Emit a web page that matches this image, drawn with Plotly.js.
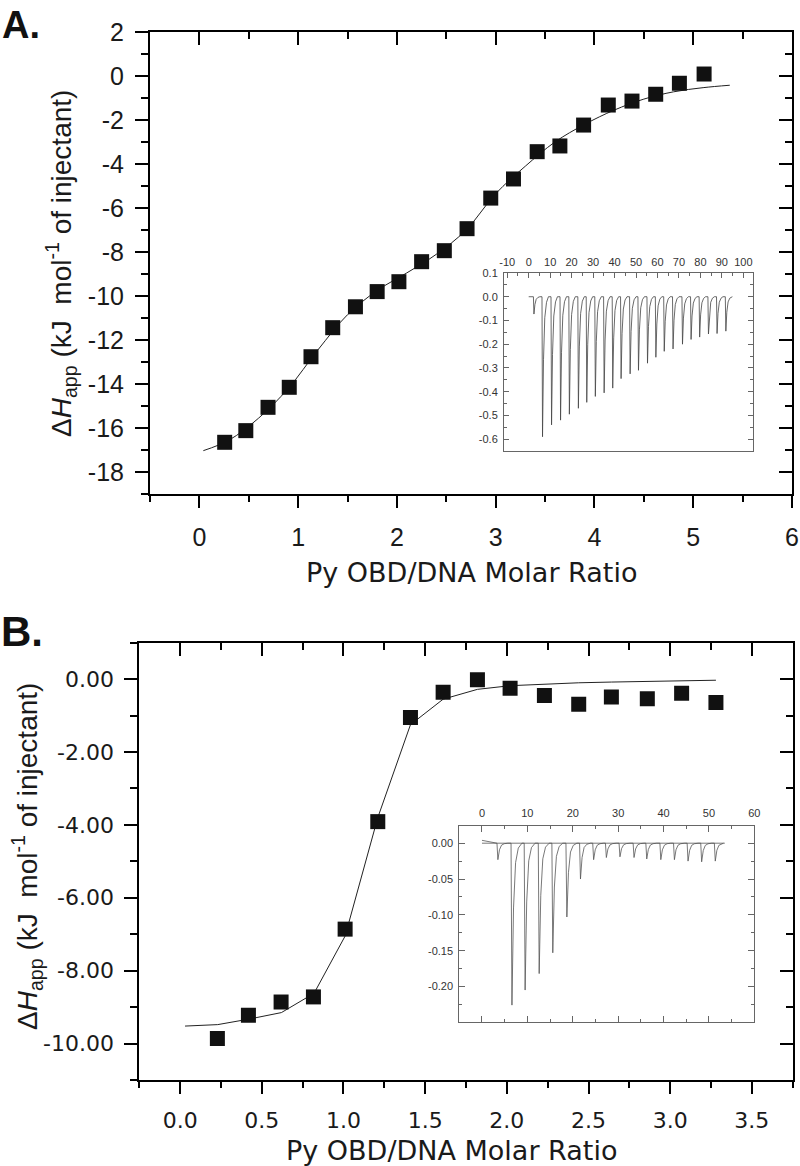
<!DOCTYPE html>
<html>
<head>
<meta charset="utf-8">
<script src="https://cdn.plot.ly/plotly-3.0.1.min.js"></script>
<style>html,body{margin:0;padding:0;background:#fff;}#chart{width:800px;height:1166px;}</style>
</head>
<body>
<div id="chart"></div>
<script>
// ---------- Panel A data ----------
const aRatio = [0.256, 0.47, 0.695, 0.91, 1.13, 1.35, 1.58, 1.80, 2.02, 2.25, 2.48, 2.71, 2.95, 3.18, 3.42, 3.65, 3.89, 4.14, 4.38, 4.62, 4.86, 5.11];
const aDH    = [-16.65, -16.12, -15.06, -14.15, -12.76, -11.44, -10.49, -9.8, -9.35, -8.44, -7.94, -6.94, -5.55, -4.68, -3.44, -3.18, -2.23, -1.32, -1.14, -0.83, -0.33, 0.09];
const aFitX  = [0.04, 0.3, 0.6, 0.9, 1.2, 1.5, 1.8, 2.1, 2.4, 2.7, 3.0, 3.3, 3.6, 3.9, 4.2, 4.5, 4.8, 5.1, 5.37];
const aFitY  = [-17.03, -16.55, -15.55, -14.2, -12.45, -10.85, -9.75, -8.95, -8.1, -7.0, -5.35, -4.1, -3.0, -2.2, -1.55, -1.05, -0.72, -0.53, -0.42];
// Panel A inset (raw thermogram): injection times and peak minima
const aInjT  = [2.2, 6.2, 10.4, 14.6, 18.7, 22.9, 26.8, 30.8, 34.9, 38.9, 42.8, 47.0, 50.9, 55.1, 59.0, 62.9, 67.0, 71.4, 75.4, 79.4, 83.5, 87.5, 91.6];
const aPeak  = [-0.073, -0.59, -0.54, -0.52, -0.495, -0.47, -0.445, -0.42, -0.405, -0.385, -0.345, -0.325, -0.31, -0.28, -0.255, -0.23, -0.22, -0.20, -0.18, -0.17, -0.157, -0.155, -0.145];
const aThermoStart = [0, 0.0];
const aThermoEnd = 94.9;
const aPeakDt   = [0, 0.25, 0.7, 1.3, 2.1, 3.0];
const aPeakFrac = [0, 1, 0.45, 0.15, 0.04, 0];

// ---------- Panel B data ----------
const bRatio = [0.228, 0.418, 0.618, 0.816, 1.01, 1.21, 1.41, 1.61, 1.82, 2.02, 2.23, 2.44, 2.64, 2.86, 3.07, 3.28];
const bDH    = [-9.86, -9.22, -8.86, -8.72, -6.86, -3.91, -1.05, -0.36, -0.02, -0.25, -0.45, -0.69, -0.49, -0.54, -0.39, -0.64];
const bFitX  = [0.03, 0.23, 0.42, 0.62, 0.82, 1.01, 1.21, 1.41, 1.61, 1.82, 2.02, 2.23, 2.44, 2.64, 2.86, 3.07, 3.28];
const bFitY  = [-9.52, -9.48, -9.33, -9.15, -8.62, -7.05, -3.8, -1.25, -0.55, -0.28, -0.18, -0.13, -0.10, -0.08, -0.06, -0.04, -0.03];
const bInjT  = [3.3, 6.4, 9.3, 12.4, 15.4, 18.5, 21.5, 24.4, 27.2, 30.2, 33.3, 36.1, 39.2, 42.2, 45.2, 48.2, 51.2];
const bPeak  = [-0.023, -0.226, -0.205, -0.182, -0.153, -0.103, -0.05, -0.023, -0.02, -0.019, -0.02, -0.022, -0.023, -0.023, -0.025, -0.026, -0.025];
const bThermoStart = [0, 0.004];
const bThermoEnd = 53.2;
const bPeakDt   = [0, 0.2, 0.55, 1.0, 1.6, 2.4];
const bPeakFrac = [0, 1, 0.4, 0.12, 0.03, 0];
const bBaseX = [0, 53.5];
const bBaseY = [0, 0];

// ---------- tick labels ----------
const aXTicks = [0, 1, 2, 3, 4, 5, 6];
const aXText  = ['0', '1', '2', '3', '4', '5', '6'];
const aYTicks = [2, 0, -2, -4, -6, -8, -10, -12, -14, -16, -18];
const aYText  = ['2', '0', '-2', '-4', '-6', '-8', '-10', '-12', '-14', '-16', '-18'];
const aInXTicks = [-10, 0, 10, 20, 30, 40, 50, 60, 70, 80, 90, 100];
const aInXText  = ['-10', '0', '10', '20', '30', '40', '50', '60', '70', '80', '90', '100'];
const aInYTicks = [0.1, 0, -0.1, -0.2, -0.3, -0.4, -0.5, -0.6];
const aInYText  = ['0.1', '0.0', '-0.1', '-0.2', '-0.3', '-0.4', '-0.5', '-0.6'];
const bXTicks = [0, 0.5, 1, 1.5, 2, 2.5, 3, 3.5];
const bXText  = ['0.0', '0.5', '1.0', '1.5', '2.0', '2.5', '3.0', '3.5'];
const bYTicks = [0, -2, -4, -6, -8, -10];
const bYText  = ['0.00', '-2.00', '-4.00', '-6.00', '-8.00', '-10.00'];
const bInXTicks = [0, 10, 20, 30, 40, 50, 60];
const bInXText  = ['0', '10', '20', '30', '40', '50', '60'];
const bInYTicks = [0, -0.05, -0.10, -0.15, -0.20];
const bInYText  = ['0.00', '-0.05', '-0.10', '-0.15', '-0.20'];

const xTitle = 'Py OBD/DNA Molar Ratio';
const yTitle = '\u0394<i>H</i><sub>app</sub> (kJ&nbsp;&nbsp;mol<sup>-1</sup> of injectant)';

function buildThermo(start, injT, depth, dt, frac, endT) {
  const xs = [start[0]], ys = [start[1]];
  for (let i = 0; i < injT.length; i++) {
    const next = i + 1 < injT.length ? injT[i + 1] : endT;
    for (let j = 0; j < dt.length; j++) {
      const t = injT[i] + dt[j];
      if (t >= next) break;
      xs.push(t); ys.push(frac[j] * depth[i]);
    }
  }
  xs.push(endT); ys.push(0);
  return {x: xs, y: ys};
}
const aThermo = buildThermo(aThermoStart, aInjT, aPeak, aPeakDt, aPeakFrac, aThermoEnd);
const bThermo = buildThermo(bThermoStart, bInjT, bPeak, bPeakDt, bPeakFrac, bThermoEnd);

const W = 800, H = 1166;
const px = v => v / W, py = v => 1 - v / H;

const mk = {symbol: 'square', size: 15, color: '#111', line: {width: 0}};
const traces = [
  {type: 'scatter', mode: 'lines', x: aFitX, y: aFitY, xaxis: 'x', yaxis: 'y', line: {color: '#222', width: 1, shape: 'spline'}, hoverinfo: 'skip'},
  {type: 'scatter', mode: 'markers', x: aRatio, y: aDH, xaxis: 'x', yaxis: 'y', marker: mk},
  {type: 'scatter', mode: 'lines', x: [null], y: [null], xaxis: 'x2', yaxis: 'y2', showlegend: false},
  {type: 'scatter', mode: 'lines', x: aThermo.x, y: aThermo.y, xaxis: 'x3', yaxis: 'y3', line: {color: '#444', width: 0.8}},
  {type: 'scatter', mode: 'lines', x: bFitX, y: bFitY, xaxis: 'x4', yaxis: 'y4', line: {color: '#222', width: 1}, hoverinfo: 'skip'},
  {type: 'scatter', mode: 'markers', x: bRatio, y: bDH, xaxis: 'x4', yaxis: 'y4', marker: mk},
  {type: 'scatter', mode: 'lines', x: [null], y: [null], xaxis: 'x5', yaxis: 'y5', showlegend: false},
  {type: 'scatter', mode: 'lines', x: bBaseX, y: bBaseY, xaxis: 'x6', yaxis: 'y6', line: {color: '#555', width: 0.8}},
  {type: 'scatter', mode: 'lines', x: bThermo.x, y: bThermo.y, xaxis: 'x6', yaxis: 'y6', line: {color: '#555', width: 0.8}}
];

const base = {showgrid: false, zeroline: false, showline: true, linecolor: '#000', linewidth: 2, tickcolor: '#000', tickwidth: 2, fixedrange: true};
const fontA = {family: 'Liberation Sans, Arial, sans-serif', size: 25, color: '#1a1a1a'};
const fontB = {family: 'DejaVu Sans, sans-serif', size: 22, color: '#1a1a1a'};
const fontIn = {family: 'Liberation Sans, Arial, sans-serif', size: 11, color: '#333'};
const inBase = {showgrid: false, zeroline: false, showline: true, linecolor: '#666', linewidth: 1, tickcolor: '#666', tickwidth: 1, fixedrange: true, ticks: 'inside', ticklen: 5, tickfont: fontIn};

const domAx = [px(150), px(792)], domAy = [py(494), py(32)];
const domIAx = [px(504), px(753)], domIAy = [py(451), py(273)];
const domBx = [px(139.3), px(792.7)], domBy = [py(1080), py(642.7)];
const domIBx = [px(459.3), px(754.3)], domIBy = [py(1022.3), py(826)];

const layout = {
  width: W, height: H, margin: {l: 0, r: 0, t: 0, b: 0},
  paper_bgcolor: '#fff', plot_bgcolor: 'rgba(0,0,0,0)', showlegend: false,
  xaxis: Object.assign({}, base, {domain: domAx, anchor: 'y', range: [-0.5, 6], tickmode: 'array', tickvals: aXTicks, ticktext: aXText, ticks: 'outside', ticklen: 12, tickfont: fontA, ticklabelstandoff: 8,
    minor: {tickmode: 'linear', tick0: 0.5, dtick: 1, ticks: 'outside', ticklen: 6, tickwidth: 2, tickcolor: '#000'}}),
  yaxis: Object.assign({}, base, {domain: domAy, anchor: 'x', range: [-19, 2], tickmode: 'array', tickvals: aYTicks, ticktext: aYText, ticks: 'outside', ticklen: 13, tickfont: fontA, ticklabelstandoff: 6,
    minor: {tickmode: 'linear', tick0: 1, dtick: 2, ticks: 'outside', ticklen: 7, tickwidth: 2, tickcolor: '#000'}}),
  xaxis2: Object.assign({}, base, {overlaying: 'x', side: 'top', anchor: 'y', range: [-0.5, 6], tickmode: 'array', tickvals: aXTicks, showticklabels: false, ticks: 'inside', ticklen: 13,
    minor: {tickmode: 'linear', tick0: 0.5, dtick: 1, ticks: 'inside', ticklen: 7, tickwidth: 2, tickcolor: '#000'}}),
  yaxis2: Object.assign({}, base, {overlaying: 'y', side: 'right', anchor: 'x', range: [-19, 2], tickmode: 'array', tickvals: aYTicks, showticklabels: false, ticks: 'inside', ticklen: 13,
    minor: {tickmode: 'linear', tick0: 1, dtick: 2, ticks: 'inside', ticklen: 7, tickwidth: 2, tickcolor: '#000'}}),
  xaxis3: Object.assign({}, inBase, {domain: domIAx, anchor: 'y3', side: 'top', range: [-11.5, 104.5], tickmode: 'array', tickvals: aInXTicks, ticktext: aInXText, mirror: true, ticklabelstandoff: 2,
    minor: {tickmode: 'linear', tick0: 5, dtick: 10, ticks: 'inside', ticklen: 3, tickwidth: 1, tickcolor: '#666'}}),
  yaxis3: Object.assign({}, inBase, {domain: domIAy, anchor: 'x3', range: [-0.65, 0.1], tickmode: 'array', tickvals: aInYTicks, ticktext: aInYText, mirror: 'allticks', ticklabelstandoff: 3,
    minor: {tickmode: 'linear', tick0: 0.05, dtick: 0.1, ticks: 'inside', ticklen: 3, tickwidth: 1, tickcolor: '#666'}}),
  xaxis4: Object.assign({}, base, {domain: domBx, anchor: 'y4', range: [-0.25, 3.75], tickmode: 'array', tickvals: bXTicks, ticktext: bXText, ticks: 'outside', ticklen: 12, tickfont: fontB, ticklabelstandoff: 8,
    minor: {tickmode: 'linear', tick0: 0.25, dtick: 0.5, ticks: 'outside', ticklen: 6, tickwidth: 2, tickcolor: '#000'}}),
  yaxis4: Object.assign({}, base, {domain: domBy, anchor: 'x4', range: [-11, 1], tickmode: 'array', tickvals: bYTicks, ticktext: bYText, ticks: 'outside', ticklen: 13, tickfont: fontB, ticklabelstandoff: 6,
    minor: {tickmode: 'linear', tick0: 1, dtick: 2, ticks: 'outside', ticklen: 7, tickwidth: 2, tickcolor: '#000'}}),
  xaxis5: Object.assign({}, base, {overlaying: 'x4', side: 'top', anchor: 'y4', range: [-0.25, 3.75], tickmode: 'array', tickvals: bXTicks, showticklabels: false, ticks: 'inside', ticklen: 13,
    minor: {tickmode: 'linear', tick0: 0.25, dtick: 0.5, ticks: 'inside', ticklen: 7, tickwidth: 2, tickcolor: '#000'}}),
  yaxis5: Object.assign({}, base, {overlaying: 'y4', side: 'right', anchor: 'x4', range: [-11, 1], tickmode: 'array', tickvals: bYTicks, showticklabels: false, ticks: 'inside', ticklen: 13,
    minor: {tickmode: 'linear', tick0: 1, dtick: 2, ticks: 'inside', ticklen: 7, tickwidth: 2, tickcolor: '#000'}}),
  xaxis6: Object.assign({}, inBase, {domain: domIBx, anchor: 'y6', side: 'top', range: [-5, 60], tickmode: 'array', tickvals: bInXTicks, ticktext: bInXText, mirror: 'allticks', ticklen: 6, ticklabelstandoff: 4,
    minor: {tickmode: 'linear', tick0: 5, dtick: 10, ticks: 'inside', ticklen: 3, tickwidth: 1, tickcolor: '#666'}}),
  yaxis6: Object.assign({}, inBase, {domain: domIBy, anchor: 'x6', range: [-0.25, 0.024], tickmode: 'array', tickvals: bInYTicks, ticktext: bInYText, mirror: 'allticks', ticklen: 6, ticklabelstandoff: 3,
    minor: {tickmode: 'linear', tick0: -0.025, dtick: 0.05, ticks: 'inside', ticklen: 3, tickwidth: 1, tickcolor: '#666'}}),
  annotations: [
    {text: '<b>A.</b>', xref: 'paper', yref: 'paper', x: px(0), y: py(2), xanchor: 'left', yanchor: 'top', showarrow: false, font: {family: 'Liberation Sans, Arial, sans-serif', size: 38, color: '#111'}},
    {text: '<b>B.</b>', xref: 'paper', yref: 'paper', x: px(-1), y: py(606), xanchor: 'left', yanchor: 'top', showarrow: false, font: {family: 'Liberation Sans, Arial, sans-serif', size: 42, color: '#111'}},
    {text: yTitle, xref: 'paper', yref: 'paper', x: px(61), y: py(264), xanchor: 'center', yanchor: 'middle', textangle: -90, showarrow: false, font: {family: 'Liberation Sans, Arial, sans-serif', size: 28, color: '#1a1a1a'}},
    {text: yTitle, xref: 'paper', yref: 'paper', x: px(27), y: py(857), xanchor: 'center', yanchor: 'middle', textangle: -90, showarrow: false, font: {family: 'Liberation Sans, Arial, sans-serif', size: 28, color: '#1a1a1a'}},
    {text: xTitle, xref: 'paper', yref: 'paper', x: px(471), y: py(572), xanchor: 'center', yanchor: 'middle', showarrow: false, font: {family: 'DejaVu Sans, sans-serif', size: 27, color: '#1a1a1a'}},
    {text: xTitle, xref: 'paper', yref: 'paper', x: px(452), y: py(1150), xanchor: 'center', yanchor: 'middle', showarrow: false, font: {family: 'DejaVu Sans, sans-serif', size: 27, color: '#1a1a1a'}}
  ]
};

Plotly.newPlot('chart', traces, layout, {staticPlot: true, displayModeBar: false});
</script>
</body>
</html>
